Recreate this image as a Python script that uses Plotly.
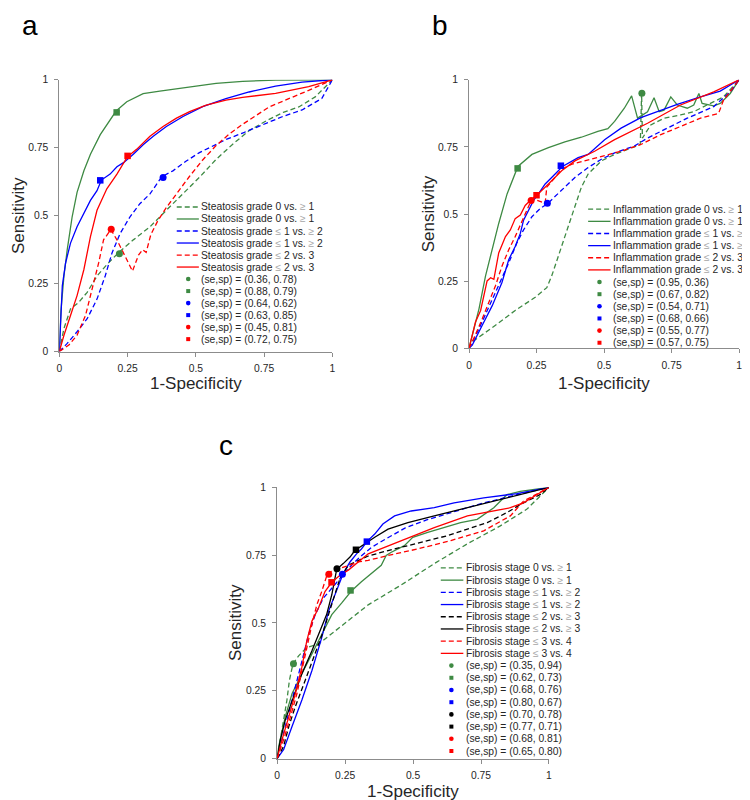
import plotly.graph_objects as go

# ---------------- data: ROC curves (1-specificity, sensitivity) ----------------
# panel a: steatosis
a_g_dash_fpr = [0, 0.017, 0.041, 0.071, 0.102, 0.138, 0.174, 0.218, 0.271, 0.332, 0.392, 0.453, 0.513, 0.574, 0.634, 0.695, 0.760, 0.820, 0.877, 0.937, 1]
a_g_dash_tpr = [0, 0.085, 0.157, 0.181, 0.218, 0.278, 0.320, 0.365, 0.411, 0.459, 0.520, 0.580, 0.641, 0.707, 0.762, 0.813, 0.850, 0.880, 0.900, 0.937, 1]
a_g_solid_fpr = [0, 0.006, 0.017, 0.029, 0.047, 0.065, 0.090, 0.114, 0.150, 0.174, 0.208, 0.247, 0.307, 0.368, 0.429, 0.489, 0.574, 0.671, 0.792, 1]
a_g_solid_tpr = [0, 0.150, 0.278, 0.375, 0.496, 0.586, 0.665, 0.726, 0.798, 0.834, 0.885, 0.919, 0.949, 0.958, 0.967, 0.977, 0.987, 0.994, 0.999, 1]
a_b_dash_fpr = [0, 0.029, 0.065, 0.102, 0.138, 0.168, 0.193, 0.223, 0.259, 0.295, 0.332, 0.375, 0.416, 0.465, 0.513, 0.562, 0.610, 0.671, 0.743, 0.816, 0.889, 0.961, 1]
a_b_dash_tpr = [0, 0.030, 0.073, 0.121, 0.193, 0.278, 0.363, 0.435, 0.496, 0.544, 0.580, 0.643, 0.665, 0.701, 0.732, 0.756, 0.780, 0.804, 0.834, 0.864, 0.889, 0.931, 1]
a_b_solid_fpr = [0, 0.005, 0.011, 0.023, 0.041, 0.065, 0.090, 0.114, 0.138, 0.154, 0.186, 0.211, 0.235, 0.271, 0.308, 0.344, 0.392, 0.453, 0.525, 0.610, 0.695, 0.792, 0.889, 1]
a_b_solid_tpr = [0, 0.120, 0.242, 0.326, 0.399, 0.459, 0.508, 0.556, 0.592, 0.631, 0.653, 0.680, 0.695, 0.726, 0.762, 0.792, 0.828, 0.865, 0.901, 0.931, 0.955, 0.977, 0.991, 1]
a_r_dash_fpr = [0, 0.035, 0.065, 0.096, 0.120, 0.144, 0.162, 0.189, 0.211, 0.241, 0.268, 0.290, 0.305, 0.318, 0.335, 0.360, 0.392, 0.429, 0.477, 0.525, 0.574, 0.622, 0.671, 0.768, 0.840, 0.913, 1]
a_r_dash_tpr = [0, 0.024, 0.060, 0.133, 0.230, 0.326, 0.411, 0.449, 0.411, 0.351, 0.296, 0.355, 0.375, 0.365, 0.430, 0.480, 0.530, 0.580, 0.645, 0.705, 0.758, 0.800, 0.836, 0.900, 0.929, 0.961, 1]
a_r_solid_fpr = [0, 0.017, 0.041, 0.065, 0.090, 0.114, 0.138, 0.174, 0.211, 0.249, 0.283, 0.332, 0.380, 0.429, 0.477, 0.538, 0.610, 0.671, 0.792, 0.913, 1]
a_r_solid_tpr = [0, 0.060, 0.133, 0.206, 0.302, 0.423, 0.520, 0.599, 0.653, 0.716, 0.744, 0.792, 0.828, 0.859, 0.883, 0.907, 0.925, 0.935, 0.950, 0.975, 1]
a_se = [0.36, 0.88, 0.64, 0.63, 0.45, 0.72]
a_sp = [0.78, 0.79, 0.62, 0.85, 0.81, 0.75]

# panel b: inflammation
b_g_dash_fpr = [0, 0.012, 0.098, 0.171, 0.245, 0.288, 0.306, 0.330, 0.355, 0.379, 0.398, 0.416, 0.441, 0.490, 0.539, 0.588, 0.634, 0.639, 0.642, 0.673, 0.722, 0.783, 0.832, 0.881, 0.942, 1]
b_g_dash_tpr = [0, 0.024, 0.086, 0.141, 0.190, 0.226, 0.269, 0.343, 0.416, 0.490, 0.551, 0.600, 0.649, 0.698, 0.722, 0.741, 0.759, 0.949, 0.783, 0.832, 0.857, 0.869, 0.881, 0.906, 0.936, 1]
b_g_solid_fpr = [0, 0.018, 0.037, 0.061, 0.086, 0.110, 0.141, 0.181, 0.233, 0.294, 0.355, 0.416, 0.477, 0.514, 0.539, 0.575, 0.602, 0.624, 0.661, 0.685, 0.704, 0.722, 0.747, 0.771, 0.808, 0.832, 0.851, 0.863, 0.906, 0.930, 0.967, 1]
b_g_solid_tpr = [0, 0.073, 0.147, 0.269, 0.367, 0.465, 0.575, 0.677, 0.722, 0.747, 0.769, 0.786, 0.808, 0.818, 0.845, 0.894, 0.940, 0.857, 0.881, 0.933, 0.881, 0.887, 0.936, 0.906, 0.894, 0.906, 0.949, 0.912, 0.903, 0.912, 0.949, 1]
b_b_dash_fpr = [0, 0.006, 0.037, 0.073, 0.110, 0.147, 0.177, 0.202, 0.233, 0.263, 0.291, 0.343, 0.392, 0.441, 0.490, 0.539, 0.612, 0.661, 0.734, 0.808, 0.906, 0.967, 1]
b_b_dash_tpr = [0, 0.012, 0.073, 0.153, 0.233, 0.318, 0.392, 0.441, 0.490, 0.520, 0.539, 0.588, 0.636, 0.673, 0.704, 0.728, 0.753, 0.783, 0.820, 0.857, 0.900, 0.955, 1]
b_b_solid_fpr = [0, 0.012, 0.049, 0.086, 0.122, 0.147, 0.171, 0.190, 0.202, 0.220, 0.239, 0.257, 0.282, 0.306, 0.346, 0.404, 0.441, 0.502, 0.563, 0.636, 0.710, 0.771, 0.857, 0.930, 1]
b_b_solid_tpr = [0, 0.012, 0.086, 0.159, 0.245, 0.330, 0.379, 0.428, 0.477, 0.514, 0.551, 0.575, 0.612, 0.636, 0.677, 0.710, 0.722, 0.777, 0.820, 0.859, 0.887, 0.908, 0.936, 0.958, 1]
b_r_dash_fpr = [0, 0.018, 0.049, 0.073, 0.098, 0.122, 0.147, 0.171, 0.196, 0.220, 0.233, 0.282, 0.288, 0.318, 0.343, 0.379, 0.428, 0.490, 0.563, 0.636, 0.710, 0.783, 0.857, 0.924, 0.942, 1]
b_r_dash_tpr = [0, 0.037, 0.110, 0.171, 0.233, 0.306, 0.367, 0.416, 0.471, 0.526, 0.557, 0.541, 0.600, 0.636, 0.667, 0.685, 0.698, 0.716, 0.734, 0.759, 0.796, 0.826, 0.857, 0.875, 0.924, 1]
b_r_solid_fpr = [0, 0.010, 0.024, 0.043, 0.055, 0.067, 0.080, 0.092, 0.110, 0.135, 0.153, 0.171, 0.190, 0.208, 0.233, 0.248, 0.294, 0.343, 0.392, 0.465, 0.539, 0.661, 0.783, 0.906, 1]
b_r_solid_tpr = [0, 0.037, 0.098, 0.141, 0.202, 0.251, 0.263, 0.257, 0.355, 0.416, 0.441, 0.483, 0.496, 0.532, 0.557, 0.567, 0.612, 0.661, 0.698, 0.734, 0.777, 0.838, 0.906, 0.955, 1]
b_se = [0.95, 0.67, 0.54, 0.68, 0.55, 0.57]
b_sp = [0.36, 0.82, 0.71, 0.66, 0.77, 0.75]

# panel c: fibrosis
c_g_dash_fpr = [0, 0.012, 0.024, 0.036, 0.045, 0.058, 0.079, 0.109, 0.152, 0.225, 0.335, 0.456, 0.578, 0.700, 0.821, 0.918, 1]
c_g_dash_tpr = [0, 0.070, 0.143, 0.216, 0.288, 0.349, 0.379, 0.410, 0.422, 0.480, 0.567, 0.640, 0.719, 0.792, 0.858, 0.919, 1]
c_g_solid_fpr = [0, 0.006, 0.030, 0.055, 0.091, 0.128, 0.164, 0.201, 0.237, 0.273, 0.310, 0.347, 0.383, 0.401, 0.420, 0.468, 0.499, 0.554, 0.614, 0.675, 0.736, 0.797, 0.845, 0.894, 1]
c_g_solid_tpr = [0, 0.046, 0.155, 0.240, 0.313, 0.385, 0.458, 0.531, 0.573, 0.618, 0.652, 0.682, 0.713, 0.749, 0.761, 0.785, 0.816, 0.834, 0.852, 0.870, 0.882, 0.925, 0.973, 0.985, 1]
c_b_dash_fpr = [0, 0.018, 0.043, 0.067, 0.091, 0.116, 0.140, 0.170, 0.201, 0.231, 0.262, 0.298, 0.347, 0.400, 0.470, 0.550, 0.650, 0.750, 0.870, 1]
c_b_dash_tpr = [0, 0.070, 0.167, 0.264, 0.361, 0.458, 0.531, 0.592, 0.628, 0.664, 0.701, 0.737, 0.779, 0.810, 0.850, 0.880, 0.910, 0.940, 0.970, 1]
c_b_solid_fpr = [0, 0.024, 0.055, 0.091, 0.128, 0.164, 0.189, 0.213, 0.243, 0.268, 0.292, 0.310, 0.332, 0.359, 0.389, 0.432, 0.493, 0.578, 0.651, 0.760, 0.882, 1]
c_b_solid_tpr = [0, 0.034, 0.119, 0.216, 0.325, 0.446, 0.543, 0.604, 0.682, 0.725, 0.755, 0.773, 0.802, 0.828, 0.865, 0.895, 0.913, 0.925, 0.943, 0.961, 0.977, 1]
c_k_dash_fpr = [0, 0.024, 0.043, 0.067, 0.103, 0.140, 0.170, 0.189, 0.207, 0.231, 0.262, 0.298, 0.335, 0.408, 0.481, 0.554, 0.627, 0.700, 0.773, 0.845, 0.906, 0.967, 1]
c_k_dash_tpr = [0, 0.046, 0.119, 0.192, 0.288, 0.385, 0.470, 0.531, 0.592, 0.664, 0.713, 0.731, 0.747, 0.767, 0.785, 0.804, 0.822, 0.846, 0.870, 0.907, 0.943, 0.973, 1]
c_k_solid_fpr = [0, 0.012, 0.030, 0.055, 0.091, 0.128, 0.158, 0.182, 0.201, 0.219, 0.243, 0.268, 0.286, 0.322, 0.359, 0.408, 0.481, 0.578, 0.700, 0.821, 0.918, 1]
c_k_solid_tpr = [0, 0.070, 0.143, 0.216, 0.313, 0.398, 0.470, 0.531, 0.604, 0.698, 0.719, 0.743, 0.767, 0.792, 0.816, 0.846, 0.870, 0.895, 0.925, 0.955, 0.977, 1]
c_r_dash_fpr = [0, 0.024, 0.049, 0.073, 0.091, 0.109, 0.128, 0.146, 0.164, 0.186, 0.213, 0.249, 0.298, 0.335, 0.408, 0.517, 0.639, 0.760, 0.858, 0.906, 1]
c_r_dash_tpr = [0, 0.070, 0.155, 0.240, 0.325, 0.410, 0.495, 0.567, 0.616, 0.685, 0.695, 0.707, 0.725, 0.731, 0.749, 0.773, 0.804, 0.840, 0.895, 0.949, 1]
c_r_solid_fpr = [0, 0.018, 0.043, 0.067, 0.091, 0.109, 0.128, 0.152, 0.176, 0.201, 0.231, 0.262, 0.335, 0.444, 0.578, 0.700, 0.797, 0.858, 0.906, 1]
c_r_solid_tpr = [0, 0.070, 0.155, 0.240, 0.337, 0.434, 0.507, 0.555, 0.616, 0.650, 0.676, 0.695, 0.755, 0.798, 0.852, 0.895, 0.913, 0.925, 0.943, 1]
c_se = [0.35, 0.62, 0.68, 0.80, 0.70, 0.77, 0.68, 0.65]
c_sp = [0.94, 0.73, 0.76, 0.67, 0.78, 0.71, 0.81, 0.80]

# legend line labels
GE = '<span style="color:#a6a6a6">≥</span>'
LE = '<span style="color:#a6a6a6">≤</span>'
a_names = [f"Steatosis grade 0 vs. {GE} 1", f"Steatosis grade {LE} 1 vs. {GE} 2", f"Steatosis grade {LE} 2 vs. 3"]
b_names = [f"Inflammation grade 0 vs. {GE} 1", f"Inflammation grade {LE} 1 vs. {GE} 2", f"Inflammation grade {LE} 2 vs. 3"]
c_names = [f"Fibrosis stage 0 vs. {GE} 1", f"Fibrosis stage {LE} 1 vs. {GE} 2",
           f"Fibrosis stage {LE} 2 vs. {GE} 3", f"Fibrosis stage {LE} 3 vs. 4"]
TICKS = [0, 0.25, 0.5, 0.75, 1]
TICK_TEXT = ["0", "0.25", "0.5", "0.75", "1"]

# ---------------- styling ----------------
GREEN = "#3e8a43"
BLUE = "#0000ff"
RED = "#ff0000"
BLACK = "#000000"
DASH = "5px,3px"
FONT = "Arial, 'Liberation Sans', sans-serif"
TXT = "#262626"
AXC = "#8c8c8c"

panels = [
    dict(sfx="", dom_x=[48.7 / 750, 324 / 750], dom_y=[1 - 343.3 / 800, 1 - 67.7 / 800],
         curves=[(a_g_dash_fpr, a_g_dash_tpr, a_g_solid_fpr, a_g_solid_tpr, GREEN),
                 (a_b_dash_fpr, a_b_dash_tpr, a_b_solid_fpr, a_b_solid_tpr, BLUE),
                 (a_r_dash_fpr, a_r_dash_tpr, a_r_solid_fpr, a_r_solid_tpr, RED)],
         names=a_names, se=a_se, sp=a_sp,
         leg=dict(x0=0.430, x1=0.511, xt=0.513, xm=0.472, y0=0.532, dy=0.0442),
         ytitle_x=-0.150, xtitle_y=-0.119, letter="a", letter_xy=(19, 12.5)),
    dict(sfx="2", dom_x=[461.7 / 750, 734 / 750], dom_y=[1 - 340 / 800, 1 - 67.7 / 800],
         curves=[(b_g_dash_fpr, b_g_dash_tpr, b_g_solid_fpr, b_g_solid_tpr, GREEN),
                 (b_b_dash_fpr, b_b_dash_tpr, b_b_solid_fpr, b_b_solid_tpr, BLUE),
                 (b_r_dash_fpr, b_r_dash_tpr, b_r_solid_fpr, b_r_solid_tpr, RED)],
         names=b_names, se=b_se, sp=b_sp,
         leg=dict(x0=0.441, x1=0.524, xt=0.526, xm=0.483, y0=0.518, dy=0.0452),
         ytitle_x=-0.151, xtitle_y=-0.132, letter="b", letter_xy=(432, 12.5)),
    dict(sfx="3", dom_x=[268.3 / 750, 542.3 / 750], dom_y=[1 - 756 / 800, 1 - 481 / 800],
         curves=[(c_g_dash_fpr, c_g_dash_tpr, c_g_solid_fpr, c_g_solid_tpr, GREEN),
                 (c_b_dash_fpr, c_b_dash_tpr, c_b_solid_fpr, c_b_solid_tpr, BLUE),
                 (c_k_dash_fpr, c_k_dash_tpr, c_k_solid_fpr, c_k_solid_tpr, BLACK),
                 (c_r_dash_fpr, c_r_dash_tpr, c_r_solid_fpr, c_r_solid_tpr, RED)],
         names=c_names, se=c_se, sp=c_sp,
         leg=dict(x0=0.602, x1=0.685, xt=0.686, xm=0.641, y0=0.703, dy=0.045),
         ytitle_x=-0.151, xtitle_y=-0.12, letter="c", letter_xy=(217, 438.5)),
]

fig = go.Figure()
shapes = []
annotations = []
layout_axes = {}

for p in panels:
    sfx = p["sfx"]
    xa, ya = "x" + sfx, "y" + sfx
    xd, yd = xa + " domain", ya + " domain"
    axis = dict(range=[0, 1], showline=True, linecolor=AXC, linewidth=1, ticks="outside",
                ticklen=4, tickcolor=AXC, tickvals=TICKS, ticktext=TICK_TEXT,
                showgrid=False, zeroline=False, fixedrange=True,
                tickfont=dict(size=10.3, color=TXT, family=FONT))
    layout_axes["xaxis" + sfx] = dict(axis, domain=p["dom_x"], anchor=ya, ticklabelstandoff=3)
    layout_axes["yaxis" + sfx] = dict(axis, domain=p["dom_y"], anchor=xa, ticklabelstandoff=4)

    # curves, legend rows
    lg = p["leg"]
    row = 0
    for (dfx, dty, sfx_, sty, col), name in zip(p["curves"], p["names"]):
        for fx, ty, dash in ((dfx, dty, DASH), (sfx_, sty, "solid")):
            fig.add_trace(go.Scatter(x=fx, y=ty, mode="lines", xaxis=xa, yaxis=ya,
                                     line=dict(color=col, width=1.3, dash=dash),
                                     showlegend=False, hoverinfo="skip"))
            yy = lg["y0"] - row * lg["dy"]
            shapes.append(dict(type="line", xref=xd, yref=yd, x0=lg["x0"], x1=lg["x1"], y0=yy, y1=yy,
                               line=dict(color=col, width=1.3, dash=dash)))
            annotations.append(dict(xref=xd, yref=yd, x=lg["xt"], y=yy, xanchor="left", yanchor="middle",
                                    text=name, showarrow=False, font=dict(size=10.3, color=TXT, family=FONT)))
            row += 1

    # operating-point markers
    for i, (se, sp) in enumerate(zip(p["se"], p["sp"])):
        col = p["curves"][i // 2][4]
        sym = "circle" if i % 2 == 0 else "square"
        fig.add_trace(go.Scatter(x=[1 - sp], y=[se], mode="markers", xaxis=xa, yaxis=ya,
                                 marker=dict(color=col, symbol=sym, size=7 if sym == "circle" else 6.5),
                                 showlegend=False, hoverinfo="skip", cliponaxis=False))
        yy = lg["y0"] - row * lg["dy"]
        r = 2.3 if sym == "circle" else 2.0
        shapes.append(dict(type="circle" if sym == "circle" else "rect", xref=xd, yref=yd,
                           xsizemode="pixel", ysizemode="pixel", xanchor=lg["xm"], yanchor=yy,
                           x0=-r, x1=r, y0=-r, y1=r, fillcolor=col, line=dict(width=0)))
        annotations.append(dict(xref=xd, yref=yd, x=lg["xt"], y=yy, xanchor="left", yanchor="middle",
                                text=f"(se,sp) = ({se:.2f}, {sp:.2f})", showarrow=False,
                                font=dict(size=10.3, color=TXT, family=FONT)))
        row += 1

    # axis titles and panel letter
    annotations.append(dict(xref=xd, yref=yd, x=0.5, y=p["xtitle_y"], text="1-Specificity",
                            showarrow=False, xanchor="center", yanchor="middle",
                            font=dict(size=17, color=TXT, family=FONT)))
    annotations.append(dict(xref=xd, yref=yd, x=p["ytitle_x"], y=0.5, text="Sensitivity", textangle=-90,
                            showarrow=False, xanchor="center", yanchor="middle",
                            font=dict(size=17, color=TXT, family=FONT)))
    lx, ly = p["letter_xy"]
    annotations.append(dict(xref="paper", yref="paper", x=lx / 750, y=1 - ly / 800, text=p["letter"],
                            showarrow=False, xanchor="center", yanchor="middle",
                            font=dict(size=28, color="#000000", family=FONT)))

fig.update_layout(width=750, height=800, margin=dict(l=0, r=0, t=0, b=0),
                  paper_bgcolor="white", plot_bgcolor="white", showlegend=False,
                  shapes=shapes, annotations=annotations, **layout_axes)
fig.write_html("out.html")
